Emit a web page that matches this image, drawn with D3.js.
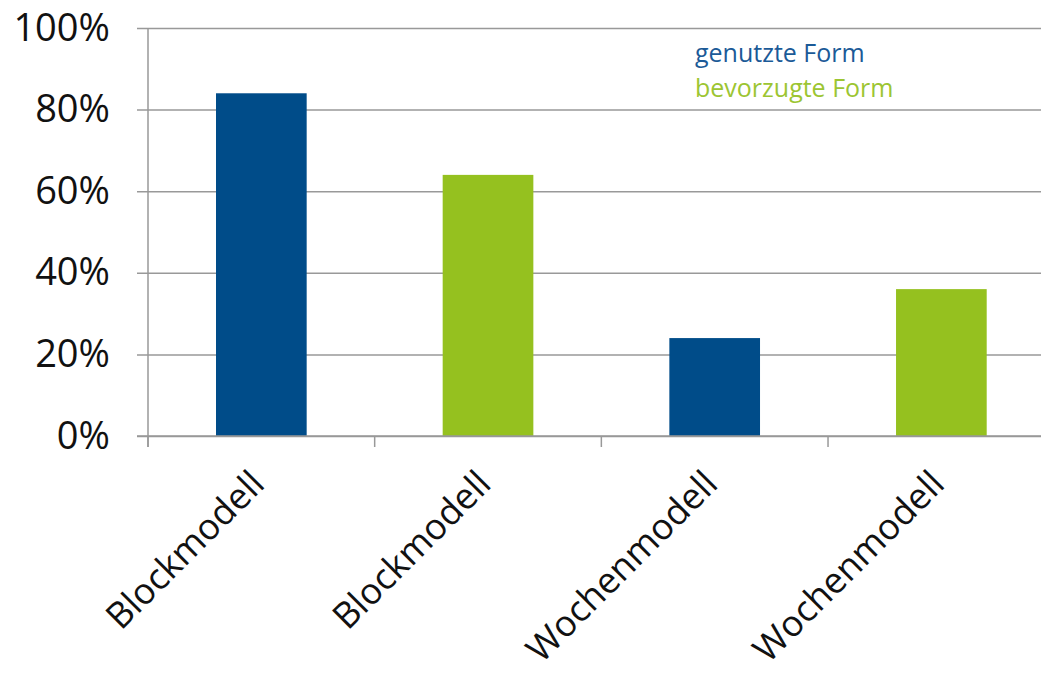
<!DOCTYPE html>
<html><head><meta charset="utf-8">
<script src="https://cdn.jsdelivr.net/npm/d3@7"></script>
<style>body{margin:0;background:#fff}svg{display:block}</style>
</head><body>
<svg id="c" width="1041" height="677"></svg>
<script>
const categories = ["Blockmodell", "Blockmodell", "Wochenmodell", "Wochenmodell"];
const values = [84, 64, 24, 36];
const seriesOf = ["genutzte Form", "bevorzugte Form", "genutzte Form", "bevorzugte Form"];
const seriesNames = ["genutzte Form", "bevorzugte Form"];
const yTicks = [0, 20, 40, 60, 80, 100];

(function () {
const colors = {"genutzte Form": "#004c89", "bevorzugte Form": "#95c11f"};
const legendColors = {"genutzte Form": "#1b5a97", "bevorzugte Form": "#9cc532"};
const font = "'Open Sans', sans-serif";

const svg = d3.select("#c");
const mLeft = 148, mRight = 1054.7, mTop = 28, mBottom = 436;
const idx = categories.map((d, i) => i);
const x = d3.scaleBand().domain(idx).range([mLeft, mRight]).paddingInner(0.6).paddingOuter(0.3);
const xb = d3.scaleBand().domain(idx).range([mLeft, mRight]).padding(0);
const y = d3.scaleLinear().domain([0, 100]).range([mBottom, mTop]);

const yAxis = d3.axisLeft(y).tickValues(yTicks).tickSize(-(mRight - mLeft)).tickSizeOuter(0).tickFormat(d => d + "%").tickPadding(38);
const gy = svg.append("g").attr("transform", `translate(${mLeft},0)`).call(yAxis);
gy.select(".domain").remove();
gy.selectAll(".tick line").attr("stroke", "#999").attr("stroke-width", 1.5).attr("x1", -11);
gy.selectAll(".tick text").attr("font-family", font).attr("font-size", 38).attr("fill", "#111").attr("dy", "0.32em");

svg.append("line").attr("x1", mLeft).attr("x2", mLeft).attr("y1", y(100)).attr("y2", mBottom + 11)
  .attr("stroke", "#999").attr("stroke-width", 1.5);

const bounds = idx.map(i => xb(i)).concat([mRight]);
svg.append("g").selectAll("line").data(bounds).join("line")
  .attr("x1", d => d).attr("x2", d => d).attr("y1", mBottom).attr("y2", mBottom + 11)
  .attr("stroke", "#999").attr("stroke-width", 1.5);

svg.append("g").selectAll("rect").data(idx).join("rect")
  .attr("x", i => x(i)).attr("width", x.bandwidth())
  .attr("y", i => y(values[i])).attr("height", i => mBottom - y(values[i]))
  .attr("fill", i => colors[seriesOf[i]]);

svg.append("line").attr("x1", mLeft - 11).attr("x2", mRight).attr("y1", mBottom).attr("y2", mBottom)
  .attr("stroke", "#999").attr("stroke-width", 1.5);

svg.append("g").selectAll("text").data(idx).join("text")
  .attr("transform", i => `translate(${xb(i) + xb.bandwidth() / 2 + 5},${mBottom + 50}) rotate(-45)`)
  .attr("text-anchor", "end")
  .attr("font-family", font).attr("font-size", 36).attr("fill", "#111")
  .text(i => categories[i]);

svg.append("g").selectAll("text").data(seriesNames).join("text")
  .attr("x", 695).attr("y", (d, i) => 62 + i * 35)
  .attr("font-family", font).attr("font-size", 25)
  .attr("fill", d => legendColors[d]).text(d => d);
})();
</script>
</body></html>
